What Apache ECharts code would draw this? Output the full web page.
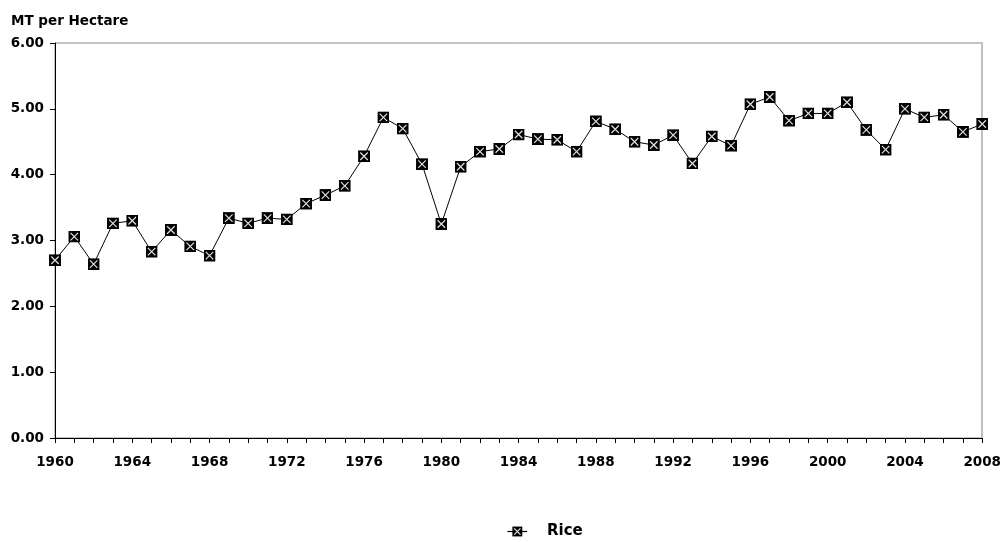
<!DOCTYPE html>
<html>
<head>
<meta charset="utf-8">
<script src="https://cdn.jsdelivr.net/npm/echarts@6/dist/echarts.min.js"></script>
<style>html,body{margin:0;padding:0;background:#fff}#c{width:1004px;height:542px}</style>
</head>
<body>
<div id="c"></div>
<script>
const years = [];
for (let y = 1960; y <= 2008; y++) years.push(String(y));
const riceYield = [
  2.70, 3.06, 2.64, 3.26, 3.30, 2.83, 3.16, 2.91, 2.77, 3.34,
  3.26, 3.34, 3.32, 3.56, 3.69, 3.83, 4.28, 4.87, 4.70, 4.16,
  3.25, 4.12, 4.35, 4.39, 4.61, 4.54, 4.53, 4.35, 4.81, 4.69,
  4.50, 4.45, 4.60, 4.17, 4.58, 4.44, 5.07, 5.18, 4.82, 4.93,
  4.93, 5.10, 4.68, 4.38, 5.00, 4.87, 4.91, 4.65, 4.77
];
const seriesName = 'Rice';
const yTitle = 'MT per Hectare';

const markerSvg = '<svg xmlns="http://www.w3.org/2000/svg" width="24" height="24" viewBox="0 0 24 24">' +
  '<rect x="0" y="0" width="24" height="24" fill="#000"/>' +
  '<path d="M4.5 4.5 L19.5 19.5 M19.5 4.5 L4.5 19.5" stroke="#e0e0e0" stroke-width="2.4"/></svg>';
const marker = 'image://data:image/svg+xml;charset=utf-8,' + encodeURIComponent(markerSvg);

const legendSvg = '<svg xmlns="http://www.w3.org/2000/svg" width="60" height="24" viewBox="0 0 60 24">' +
  '<line x1="4" y1="12" x2="36" y2="12" stroke="#000" stroke-width="2"/>' +
  '<rect x="12" y="4" width="16" height="16" fill="#000"/>' +
  '<path d="M15 7 L25 17 M25 7 L15 17" stroke="#e0e0e0" stroke-width="2"/></svg>';
const legendIcon = 'image://data:image/svg+xml;charset=utf-8,' + encodeURIComponent(legendSvg);

const font = '"DejaVu Sans", Verdana, sans-serif';
const chart = echarts.init(document.getElementById('c'), null, {renderer: 'canvas'});
chart.setOption({
  animation: false,
  backgroundColor: '#fff',
  textStyle: {fontFamily: font},
  title: {
    text: yTitle, left: 6, top: 9,
    textStyle: {fontSize: 13.5, fontWeight: 'bold', color: '#000', fontFamily: font}
  },
  grid: {left: 55, right: 21, top: 43, bottom: 104, show: true, borderColor: '#8a8a8a', borderWidth: 1},
  legend: {
    left: 500, top: 519, itemWidth: 37, itemHeight: 15,
    data: [{name: seriesName, icon: legendIcon}],
    textStyle: {fontSize: 15, fontWeight: 'bold', color: '#000', fontFamily: font}
  },
  xAxis: {
    type: 'category', data: years, boundaryGap: false,
    axisLine: {lineStyle: {color: '#000', width: 1}},
    axisTick: {show: true, interval: 0, length: 5, lineStyle: {color: '#000'}},
    axisLabel: {interval: 3, color: '#000', fontSize: 13.5, fontWeight: 'bold', margin: 17, fontFamily: font},
    splitLine: {show: false}
  },
  yAxis: [{
    type: 'value', min: 0, max: 6, interval: 1,
    axisLine: {show: true, lineStyle: {color: '#000', width: 1}},
    axisTick: {show: true, length: 5, lineStyle: {color: '#000'}},
    axisLabel: {color: '#000', fontSize: 13.5, fontWeight: 'bold', margin: 11, fontFamily: font,
      formatter: v => v.toFixed(2)},
    splitLine: {show: false}
  }, {
    type: 'value', min: 0, max: 6, interval: 1, position: 'right',
    axisLine: {show: true, lineStyle: {color: '#c0c0c0', width: 2}},
    axisTick: {show: false}, axisLabel: {show: false}, splitLine: {show: false}
  }],
  series: [{
    name: seriesName, type: 'line', data: riceYield,
    symbol: marker, symbolSize: 12, showAllSymbol: true,
    lineStyle: {color: '#000', width: 1},
    itemStyle: {color: '#000'}
  }]
});
</script>
</body>
</html>
